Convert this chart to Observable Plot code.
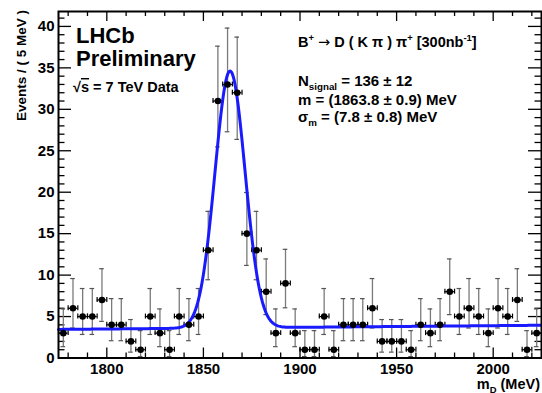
<!DOCTYPE html>
<html><head><meta charset="utf-8">
<script src="https://cdn.jsdelivr.net/npm/d3@7"></script>
<script src="https://cdn.jsdelivr.net/npm/@observablehq/plot@0.6"></script>
<style>body{margin:0;background:#fff} #chart svg{display:block}</style>
</head><body><div id="chart"></div>
<script>
// ---- data ----
const binCenters = [1777.5,1782.5,1787.5,1792.5,1797.5,1802.5,1807.5,1812.5,1817.5,1822.5,
  1827.5,1832.5,1837.5,1842.5,1847.5,1852.5,1857.5,1862.5,1867.5,1872.5,
  1877.5,1882.5,1887.5,1892.5,1897.5,1902.5,1907.5,1912.5,1917.5,1922.5,
  1927.5,1932.5,1937.5,1942.5,1947.5,1952.5,1957.5,1962.5,1967.5,1972.5,
  1977.5,1982.5,1987.5,1992.5,1997.5,2002.5,2007.5,2012.5,2017.5,2022.5];
const counts = [3,6,5,5,7,4,4,2,1,5,
  3,1,5,4,5,13,31,33,32,15,
  13,8,3,9,3,1,1,5,1,4,
  4,4,6,2,2,2,1,4,3,4,
  8,5,6,5,3,6,5,7,1,3];
const binHalfWidth = 2.5;
// Poisson (Garwood) 68% intervals for the counts that occur
const poissonN  = [1,2,3,4,5,6,7,8,9,13,15,31,32,33];
const poissonLo = [0.173,0.708,1.367,2.086,2.840,3.620,4.419,5.232,6.057,9.441,11.17,25.47,26.37,27.29];
const poissonHi = [3.300,4.638,5.918,7.163,8.382,9.584,10.77,11.95,13.11,17.69,19.96,37.62,38.71,39.80];
// fit: gaussian signal + linear background
const fitMean = 1863.8, fitSigma = 7.8, fitPeak = 31.0;
const bkgAtMin = 3.45, bkgAtMax = 3.95;
const xDomain = [1775, 2025];
const yDomain = [0, 41.8];
const xMajorTicks = [1800,1850,1900,1950,2000];
const xMinorTicks = [1780,1790,1810,1820,1830,1840,1860,1870,1880,1890,1910,1920,1930,1940,1960,1970,1980,1990,2010,2020];
const yMajorTicks = [0,5,10,15,20,25,30,35,40];
const yMinorTicks = [1,2,3,4,6,7,8,9,11,12,13,14,16,17,18,19,21,22,23,24,26,27,28,29,31,32,33,34,36,37,38,39,41];

// ---- build tables ----
const lookup = n => poissonN.indexOf(n);
const points = binCenters.map((m,i) => ({
  m, n: counts[i],
  lo: poissonLo[lookup(counts[i])], hi: poissonHi[lookup(counts[i])]
}));
const fitFn = m => bkgAtMin + (bkgAtMax-bkgAtMin)*(m-xDomain[0])/(xDomain[1]-xDomain[0])
  + fitPeak*Math.exp(-0.5*((m-fitMean)/fitSigma)**2);
const curve = d3.range(xDomain[0], xDomain[1]+0.01, 0.5).map(m => ({m, y: fitFn(m)}));

const W = 542, H = 393, mL = 58, mR = 1, mT = 11, mB = 35.5;
const iW = W - mL - mR, iH = H - mT - mB;
const FONT = "Liberation Sans, Arial, Helvetica, sans-serif";
const tickStyle = {stroke: "black", strokeWidth: 1.3};

const chart = Plot.plot({
  width: W, height: H,
  marginLeft: mL, marginRight: mR, marginTop: mT, marginBottom: mB,
  style: {fontFamily: FONT, background: "white"},
  x: {domain: xDomain, axis: null},
  y: {domain: yDomain, axis: null},
  marks: [
    // ticks (ROOT style, inside frame, all four sides)
    Plot.tickX(xMajorTicks, {x: d=>d, insetTop: iH-10, ...tickStyle}),
    Plot.tickX(xMinorTicks, {x: d=>d, insetTop: iH-5, ...tickStyle}),
    Plot.tickX(xMajorTicks, {x: d=>d, insetBottom: iH-10, ...tickStyle}),
    Plot.tickX(xMinorTicks, {x: d=>d, insetBottom: iH-5, ...tickStyle}),
    Plot.tickY(yMajorTicks, {y: d=>d, insetRight: iW-13, ...tickStyle}),
    Plot.tickY(yMinorTicks, {y: d=>d, insetRight: iW-6.5, ...tickStyle}),
    Plot.tickY(yMajorTicks, {y: d=>d, insetLeft: iW-13, ...tickStyle}),
    Plot.tickY(yMinorTicks, {y: d=>d, insetLeft: iW-6.5, ...tickStyle}),
    // tick labels
    Plot.text(xMajorTicks, {x: d=>d, frameAnchor: "bottom", lineAnchor: "top", dy: 5,
      text: d=>String(d), fontSize: 15, fontWeight: "bold", fill: "black"}),
    Plot.text(yMajorTicks, {y: d=>d, frameAnchor: "left", textAnchor: "end", dx: -4,
      text: d=>String(d), fontSize: 15, fontWeight: "bold", fill: "black"}),
    // error bars
    Plot.ruleX(points, {x: "m", y1: "lo", y2: "hi", stroke: "#7a7a7a", strokeWidth: 1.3}),
    Plot.ruleY(points, {y: "hi", x1: d=>d.m-1.2, x2: d=>d.m+1.2, stroke: "#555", strokeWidth: 1.2}),
    Plot.ruleY(points, {y: "lo", x1: d=>d.m-1.2, x2: d=>d.m+1.2, stroke: "#555", strokeWidth: 1.2}),
    Plot.ruleY(points, {y: "n", x1: d=>d.m-binHalfWidth, x2: d=>d.m+binHalfWidth, stroke: "black", strokeWidth: 1.2}),
    Plot.ruleX(points, {x: d=>d.m-binHalfWidth, y1: d=>d.n-0.3, y2: d=>d.n+0.3, stroke: "black", strokeWidth: 1.2}),
    Plot.ruleX(points, {x: d=>d.m+binHalfWidth, y1: d=>d.n-0.3, y2: d=>d.n+0.3, stroke: "black", strokeWidth: 1.2}),
    // fit curve
    Plot.line(curve, {x: "m", y: "y", stroke: "#1a1aff", strokeWidth: 3}),
    // data points
    Plot.dot(points, {x: "m", y: "n", r: 3.3, fill: "black", stroke: "none"}),
    Plot.frame({stroke: "black", strokeWidth: 2})
  ]
});
document.getElementById("chart").appendChild(chart);

// ---- text annotations ----
const svg = d3.select(chart);
const g = svg.append("g").attr("font-family", FONT).attr("font-weight", "bold")
  .attr("fill", "black").attr("text-anchor", "start");
g.append("text").attr("x", 76).attr("y", 43).attr("font-size", 22).text("LHCb");
g.append("text").attr("x", 76).attr("y", 66).attr("font-size", 22).text("Preliminary");
const rs = g.append("text").attr("x", 73).attr("y", 92).attr("font-size", 14.5);
rs.append("tspan").text("√");
rs.append("tspan").attr("text-decoration", "overline").text("s");
rs.append("tspan").text(" = 7 TeV Data");

function rich(x, y, size, parts, anchor) {
  const t = g.append("text").attr("x", x).attr("y", y).attr("font-size", size)
    .attr("text-anchor", anchor || "start");
  let cur = 0;
  for (const [s, kind] of parts) {
    const target = kind === "sup" ? -6 : kind === "sub" ? 3.5 : 0;
    const sp = t.append("tspan").attr("dy", target - cur).text(s);
    if (kind === "sup" || kind === "sub") sp.attr("font-size", size*0.65);
    if (kind === "sym") sp.attr("font-family", "DejaVu Sans").attr("font-weight", "normal");
    cur = target;
  }
  return t;
}
rich(298, 47, 14.5, [["B"],["+","sup"],[" "],["→","sym"],[" D ( K π ) π"],["+","sup"],[" [300nb"],["-1","sup"],["]"]]);
rich(298, 86, 15, [["N"],["signal","sub"],[" = 136 ± 12"]]);
rich(298, 105, 15, [["m = (1863.8 ± 0.9) MeV"]]);
rich(298, 122, 15, [["σ"],["m","sub"],[" = (7.8 ± 0.8) MeV"]]);
rich(540, 389, 14.5, [["m"],["D","sub"],[" (MeV)"]], "end");
g.append("text").attr("transform", "translate(26,10) rotate(-90)").attr("text-anchor", "end")
  .attr("font-size", 13.5).text("Events / ( 5 MeV )");
</script></body></html>
